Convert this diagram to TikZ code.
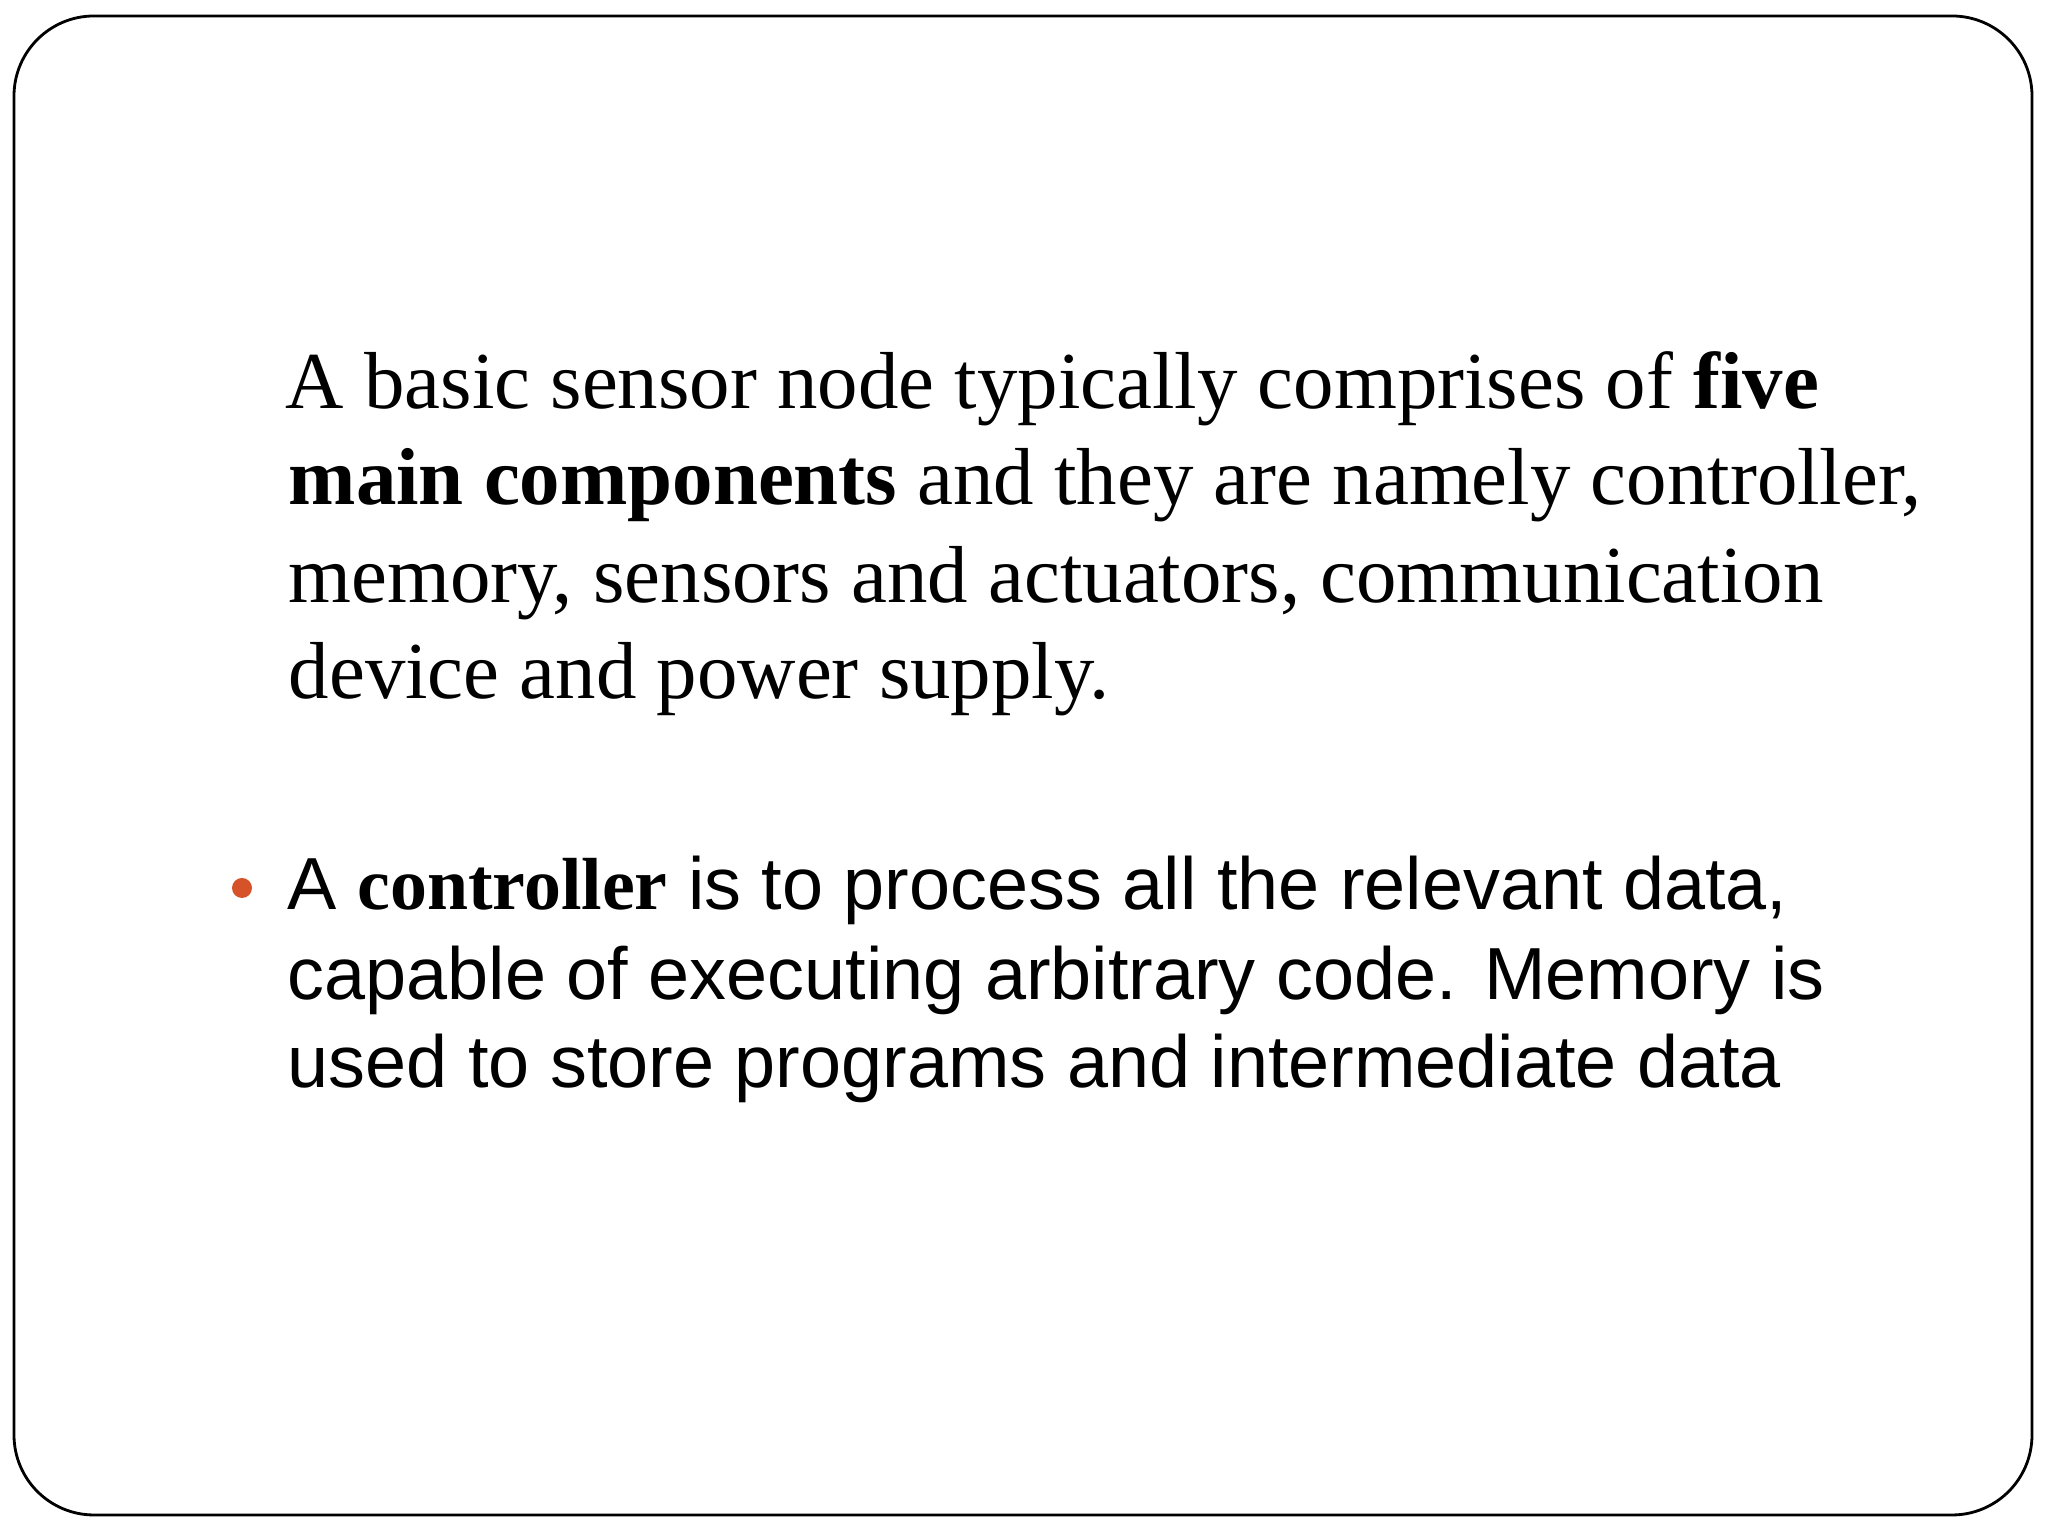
\documentclass[tikz,border=0pt]{standalone}
\usepackage{fontspec}
\setmainfont{Liberation Serif}
\newfontfamily\arialf{Liberation Sans}
\definecolor{bul}{RGB}{214,82,40}
\begin{document}
\begin{tikzpicture}[x=1cm,y=1cm,
  serl/.style={anchor=base west,inner sep=0pt,font=\fontsize{23}{27}\selectfont},
  sanl/.style={anchor=base west,inner sep=0pt,font=\arialf\fontsize{21}{25}\selectfont}]
\useasboundingbox (0,0) rectangle (20.48,15.36);
\draw[line width=0.8pt,rounded corners=0.8cm] (0.14,0.21) rectangle (20.32,15.2);
\node[serl] (l1) at (2.85,15.36-4.09) {A basic sensor node typically comprises of \textbf{five}};
\node[serl] (l2) at (2.88,15.36-5.05) {\textbf{main components} and they are namely controller,};
\node[serl] (l3) at (2.88,15.36-6.03) {memory, sensors and actuators, communication};
\node[serl] (l4) at (2.88,15.36-6.99) {device and power supply.};
\fill[bul] (2.42,15.36-8.88) circle (0.1);
\node[sanl] (b1) at (2.87,15.36-9.10) {A {\rmfamily\bfseries controller} is to process all the relevant data,};
\node[sanl] (b2) at (2.87,15.36-10.00) {capable of executing arbitrary code. Memory is};
\node[sanl] (b3) at (2.87,15.36-10.88) {used to store programs and intermediate data};
\end{tikzpicture}
\end{document}
